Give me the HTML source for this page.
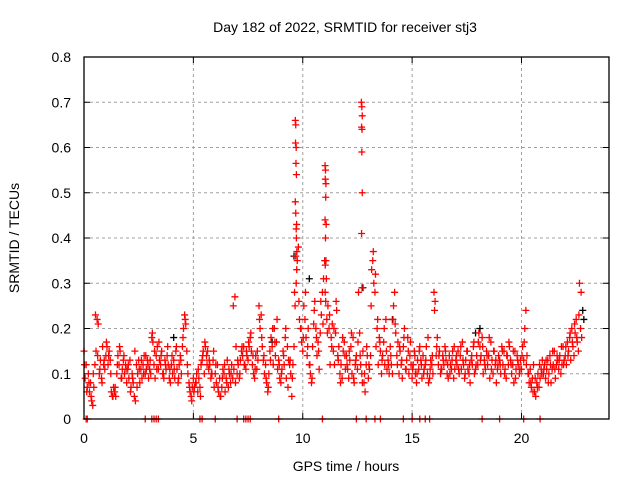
<!DOCTYPE html>
<html><head><meta charset="utf-8"><style>
body{margin:0;background:#fff;}
svg{display:block;font-family:"Liberation Sans",sans-serif;}
</style></head><body>
<svg id="chart" width="640" height="480">
<text x="345" y="32" font-size="14" text-anchor="middle">Day 182 of 2022, SRMTID for receiver stj3</text>
<text x="346" y="471" font-size="14" text-anchor="middle">GPS time / hours</text>
<text transform="translate(19,238) rotate(-90)" font-size="14" text-anchor="middle">SRMTID / TECUs</text>
<g id="grid"></g>
<g id="ticks"></g>
<g id="marks"></g>
<rect x="84" y="57" width="525" height="362" fill="none" stroke="#000" stroke-width="1.3"/>
</svg>
<script>
const xTicks=[0,5,10,15,20];
const yTicks=[0,0.1,0.2,0.3,0.4,0.5,0.6,0.7,0.8];
const yTickLabels=["0","0.1","0.2","0.3","0.4","0.5","0.6","0.7","0.8"];
const tStart=0, tStep=0.05;
const redValues=[
.15,.09,.12,.07,.10,.06,.08,.04,.03,.07,.12,.15,.22,.21,.10,.13,.09,.16,.12,.11,
.14,.16,.12,.15,.13,.06,.05,.07,.06,.05,.10,.14,.12,.15,.09,.11,.13,.10,.12,.08,
.11,.09,.13,.07,.10,.08,.05,.04,.12,.10,.13,.08,.11,.09,.12,.14,.10,.11,.13,.09,
.11,.10,.18,.17,.12,.09,.14,.16,.11,.13,.12,.15,.10,.09,.13,.11,.14,.12,.09,.08,
.12,.10,.13,.09,.15,.11,.08,.12,.14,.10,.16,.20,.23,.21,.15,.10,.08,.06,.05,.07,
.09,.07,.08,.10,.06,.09,.07,.12,.13,.15,.10,.16,.14,.15,.11,.12,.09,.10,.13,.07,
.10,.08,.12,.06,.09,.05,.07,.11,.10,.06,.09,.13,.07,.10,.08,.12,.09,.11,.27,.16,
.10,.12,.09,.13,.15,.14,.16,.12,.11,.14,.13,.16,.18,.15,.12,.10,.09,.14,.11,.13,
.25,.20,.23,.16,.13,.10,.12,.08,.06,.10,.15,.18,.16,.12,.20,.14,.17,.11,.13,.09,
.08,.11,.15,.12,.18,.09,.16,.13,.12,.10,.05,.12,.16,.25,.30,.35,.38,.22,.20,.17,
.15,.25,.22,.18,.14,.20,.12,.10,.08,.16,.21,.26,.20,.14,.17,.11,.19,.23,.28,.31,
.35,.26,.22,.25,.20,.12,.18,.21,.15,.12,.19,.24,.14,.16,.10,.12,.09,.15,.17,.11,
.14,.11,.09,.13,.16,.10,.18,.08,.12,.14,.11,.28,.19,.12,.10,.15,.08,.06,.12,.14,
.09,.11,.14,.33,.35,.30,.28,.16,.20,.12,.18,.15,.10,.14,.17,.12,.22,.11,.13,.10,
.16,.12,.10,.25,.28,.19,.14,.17,.10,.15,.12,.09,.16,.20,.11,.13,.18,.10,.14,.12,
.09,.12,.15,.10,.08,.13,.11,.16,.13,.09,.14,.11,.12,.16,.10,.08,.09,.13,.12,.10,
.28,.26,.14,.18,.12,.15,.10,.11,.14,.12,.16,.13,.10,.09,.14,.12,.11,.15,.09,.11,
.13,.12,.15,.10,.14,.11,.17,.12,.09,.13,.15,.11,.10,.08,.13,.12,.16,.10,.11,.14,
.12,.19,.16,.14,.18,.10,.13,.11,.15,.12,.14,.09,.17,.13,.10,.15,.12,.08,.11,.14,
.13,.10,.16,.12,.15,.11,.09,.14,.12,.16,.13,.10,.12,.08,.15,.11,.14,.12,.10,.13,
.11,.16,.13,.20,.24,.14,.10,.08,.11,.07,.09,.12,.06,.05,.08,.10,.07,.09,.11,.13,
.10,.12,.09,.11,.13,.10,.14,.08,.11,.12,.15,.09,.12,.13,.11,.14,.10,.12,.16,.13,
.14,.12,.17,.15,.18,.13,.20,.16,.14,.19,.22,.17,.15,.30,.20,.18];
const t2Start=0.025, t2Step=0.1;
const redValues2=[
.12,.06,.08,.05,.10,.23,.14,.11,.08,.13,
.17,.14,.10,.05,.07,.12,.16,.09,.14,.11,
.12,.06,.09,.15,.07,.11,.13,.10,.14,.12,
.13,.19,.15,.11,.17,.14,.10,.12,.16,.11,
.14,.11,.16,.09,.13,.18,.22,.12,.07,.04,
.06,.08,.11,.05,.14,.17,.12,.13,.10,.15,
.12,.07,.05,.09,.12,.08,.11,.10,.25,.08,
.13,.10,.16,.12,.15,.17,.19,.14,.11,.15,
.22,.18,.14,.09,.07,.13,.20,.17,.22,.12,
.10,.14,.20,.07,.13,.09,.28,.33,.26,.20,
.18,.28,.16,.12,.09,.24,.18,.15,.26,.21,
.28,.19,.23,.16,.20,.26,.13,.08,.18,.14,
.12,.15,.19,.09,.13,.17,.14,.08,.10,.16,
.12,.25,.37,.32,.22,.17,.13,.20,.15,.12,
.14,.22,.21,.12,.16,.13,.18,.11,.15,.17,
.11,.14,.10,.15,.12,.10,.13,.18,.11,.14,
.24,.16,.14,.11,.13,.15,.12,.10,.13,.16,
.14,.11,.16,.13,.10,.15,.12,.14,.17,.12,
.17,.13,.16,.12,.14,.18,.11,.15,.13,.12,
.12,.15,.10,.14,.17,.12,.15,.09,.13,.11,
.14,.17,.12,.10,.08,.06,.09,.07,.12,.10,
.11,.13,.08,.12,.15,.11,.14,.13,.16,.12,
.16,.14,.19,.17,.21,.18,.23,.28];
const spikeTimes=[9.66,9.68,9.67,9.70,9.69,9.71,9.66,9.68,9.72,9.70,9.71,9.73,9.68,
11.02,11.04,11.03,11.06,11.05,11.02,11.07,11.04,11.06,11.03,11.08,
12.68,12.70,12.72,12.69,12.71,12.70,12.72,12.69,12.71];
const spikeValues=[.66,.65,.61,.60,.565,.54,.48,.455,.43,.42,.40,.37,.36,
.56,.55,.53,.52,.49,.44,.43,.40,.35,.34,.31,
.70,.69,.67,.645,.64,.59,.50,.41,.29];
const zeroTimes=[0.1,0.15,2.8,3.1,3.2,3.3,3.4,5.3,5.4,6.0,7.0,7.3,7.4,7.5,7.6,8.9,10.9,12.45,12.9,13.3,13.55,14.6,15.0,15.35,15.6,15.8,18.2,19.0,20.1,20.85];
const blackTimes=[9.6,10.3,12.75,14.1,17.9,18.1,22.8,22.85,4.1,8.6];
const blackValues=[.36,.31,.29,.22,.19,.20,.24,.22,.18,.17];

const X0=84,X1=609,Y0=419,Y1=57,XMAX=24,YMAX=0.8;
const xs=t=>X0+(t/XMAX)*(X1-X0);
const ys=v=>Y0-(v/YMAX)*(Y0-Y1);
const NS="http://www.w3.org/2000/svg";
const grid=document.getElementById('grid'),ticks=document.getElementById('ticks'),marks=document.getElementById('marks');
function mk(tag,attrs,parent){const e=document.createElementNS(NS,tag);for(const k in attrs)e.setAttribute(k,attrs[k]);parent.appendChild(e);return e;}
xTicks.forEach(t=>{
  const x=xs(t);
  if(t>0){const g=mk('line',{x1:x,x2:x,y1:Y0,y2:Y1,stroke:'#a0a0a0','stroke-dasharray':'3,3'},grid);
  
  }
  const l=mk('text',{x:x,y:443,'font-size':14,'text-anchor':'middle'},ticks);l.textContent=t;
  
  
  mk('line',{x1:x,x2:x,y1:Y0,y2:Y0-6,stroke:'#000'},ticks);
  mk('line',{x1:x,x2:x,y1:Y1,y2:Y1+6,stroke:'#000'},ticks);
});
yTicks.forEach((v,i)=>{
  const y=ys(v);
  if(v>0&&v<YMAX){const g=mk('line',{x1:X0,x2:X1,y1:y,y2:y,stroke:'#a0a0a0','stroke-dasharray':'3,3'},grid);
  
  }
  const l=mk('text',{x:71,y:y+5,'font-size':14,'text-anchor':'end'},ticks);l.textContent=yTickLabels[i];
  
  
  mk('line',{x1:X0,x2:X0+6,y1:y,y2:y,stroke:'#000'},ticks);
  mk('line',{x1:X1,x2:X1-6,y1:y,y2:y,stroke:'#000'},ticks);
});
function plus(t,v,col,name){
  const x=xs(t),y=ys(v);
  const p=mk('path',{d:`M${x-3.5},${y}H${x+3.5}M${x},${y-3.5}V${y+3.5}`,stroke:col,'stroke-width':1.3,fill:'none'},marks);
  
  
}
blackTimes.forEach((t,i)=>plus(t,blackValues[i],'#000','black-point'));
redValues.forEach((v,i)=>plus(tStart+i*tStep,v,'#ff0000','red-point'));
redValues2.forEach((v,i)=>plus(t2Start+i*t2Step,v,'#ff0000','red-point'));
spikeTimes.forEach((t,i)=>plus(t,spikeValues[i],'#ff0000','spike-point'));
zeroTimes.forEach(t=>plus(t,0,'#ff0000','zero-point'));
</script>
</body></html>
